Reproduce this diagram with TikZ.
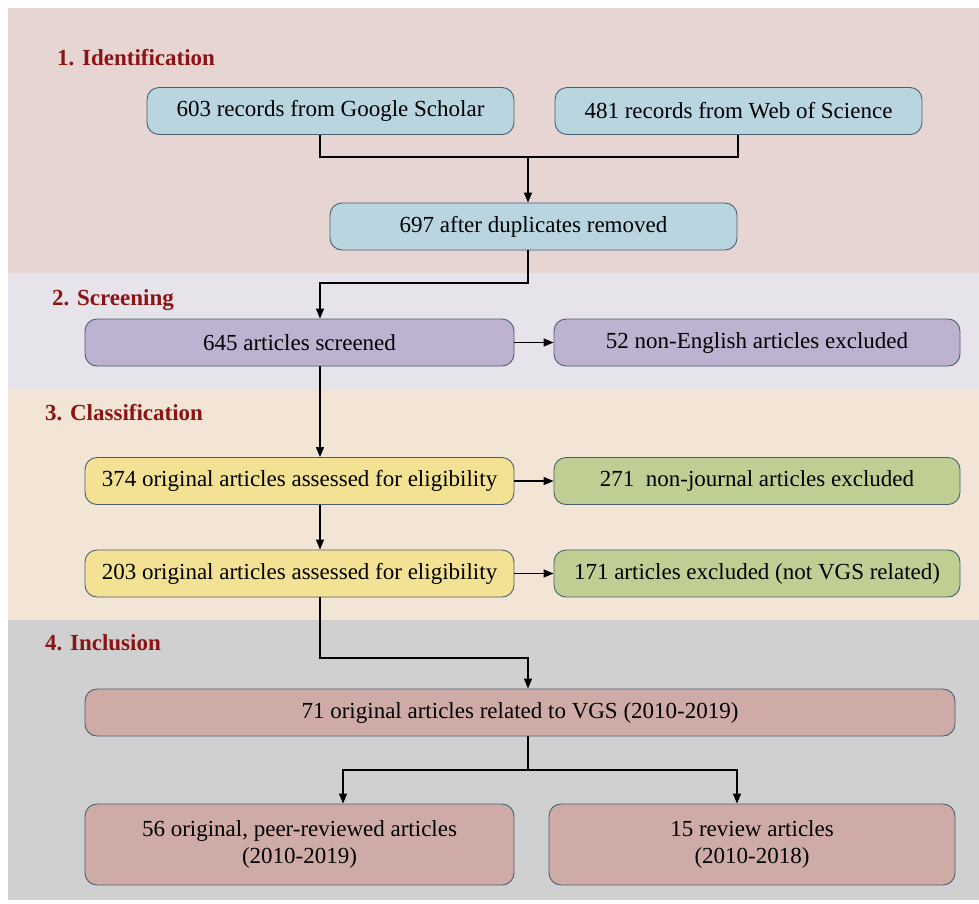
\documentclass[tikz,border=0pt]{standalone}
\usepackage{fontspec}
\setmainfont{Liberation Serif}
\usetikzlibrary{arrows.meta}
\definecolor{bandA}{HTML}{E6D5D3}
\definecolor{bandB}{HTML}{E7E3EB}
\definecolor{bandC}{HTML}{F2E5D5}
\definecolor{bandD}{HTML}{D0D0D0}
\definecolor{cblue}{HTML}{B8D5E0}
\definecolor{clav}{HTML}{BDB3D1}
\definecolor{cyel}{HTML}{F3E293}
\definecolor{cgrn}{HTML}{BFCF94}
\definecolor{crose}{HTML}{CFABA7}
\definecolor{boxline}{HTML}{4A5F70}
\definecolor{lbl}{HTML}{8B1414}
\tikzset{
  box/.style={draw=boxline, line width=0.9pt, rounded corners=12pt, minimum height=47pt, inner sep=0pt, font=\fontsize{23}{27}\selectfont, align=center},
  stage/.style={anchor=base west, inner sep=0pt, text=lbl, font=\fontsize{23}{27}\selectfont\bfseries},
  conn/.style={line width=1.4pt, draw=black},
  arr/.style={conn, -{Triangle[length=10pt,width=8pt]}}
}
\begin{document}
\begin{tikzpicture}[x=1pt,y=-1pt]
\useasboundingbox (0,0) rectangle (979,903);
\fill[bandA] (8,8) rectangle (979,273);
\fill[bandB] (8,273) rectangle (979,389);
\fill[bandC] (8,389) rectangle (979,620);
\fill[bandD] (8,620) rectangle (979,900);

\node[stage] (l1) at (57,65) {1. Identification};
\node[stage] (l2) at (52,305) {2. Screening};
\node[stage] (l3) at (45,420) {3. Classification};
\node[stage] (l4) at (45,650) {4. Inclusion};

\node[box, fill=cblue, minimum width=367pt] (gs) at (330.5,111) {603 records from Google Scholar};
\node[box, fill=cblue, minimum width=367pt] (ws) at (738.5,111) {481 records from Web of Science};
\node[box, fill=cblue, minimum width=407pt] (dup) at (533.5,226.5) {697 after duplicates removed};
\node[box, fill=clav, minimum width=429pt] (scr) at (299.5,342.5) {645 articles screened};
\node[box, fill=clav, minimum width=406pt] (ne) at (757,342.5) {52 non-English articles excluded};
\node[box, fill=cyel, minimum width=429pt] (a374) at (299.5,481) {374 original articles assessed for eligibility};
\node[box, fill=cgrn, minimum width=406pt] (a271) at (757,481) {271~ non-journal articles excluded};
\node[box, fill=cyel, minimum width=429pt] (a203) at (299.5,573.5) {203 original articles assessed for eligibility};
\node[box, fill=cgrn, minimum width=406pt] (a171) at (757,573.5) {171 articles excluded (not VGS related)};
\node[box, fill=crose, minimum width=870pt] (a71) at (520,712.5) {71 original articles related to VGS (2010-2019)};
\node[box, fill=crose, minimum width=429pt, minimum height=81pt] (a56) at (299.5,844.5) {56 original, peer-reviewed articles\\(2010-2019)};
\node[box, fill=crose, minimum width=406pt, minimum height=81pt] (a15) at (752,844.5) {15 review articles\\(2010-2018)};

\coordinate (j1) at (528,157);
\draw[conn] (gs.south -| 320,0) |- (j1) -| (ws.south -| 738,0);
\draw[arr] (j1) -- (dup.north -| j1);
\coordinate (j2) at (528,283);
\draw[arr] (dup.south -| j2) |- (320,283) -- (scr.north -| 320,0);
\draw[arr] (scr.east) -- (ne.west);
\draw[arr] (scr.south -| 320,0) -- (a374.north -| 320,0);
\draw[arr] (a374.east) -- (a271.west);
\draw[arr] (a374.south -| 320,0) -- (a203.north -| 320,0);
\draw[arr] (a203.east) -- (a171.west);
\coordinate (j3) at (528,658);
\draw[arr] (a203.south -| 320,0) |- (j3) -- (a71.north -| j3);
\coordinate (j4) at (528,770);
\draw[conn] (a71.south -| j4) -- (j4);
\draw[arr] (j4) -| (a56.north -| 343,0);
\draw[arr] (j4) -| (a15.north -| 737,0);
\end{tikzpicture}
\end{document}
